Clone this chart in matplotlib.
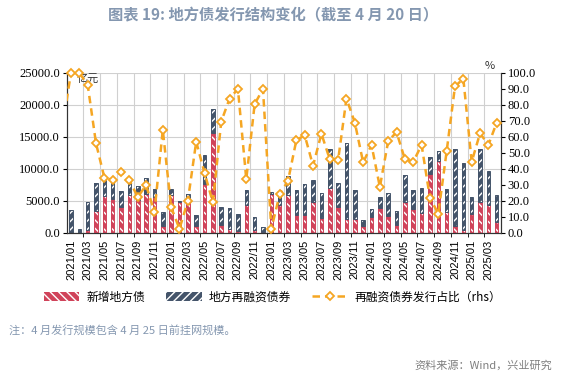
import matplotlib
matplotlib.use("Agg")
import matplotlib.pyplot as plt
from matplotlib.patches import Patch
from matplotlib.lines import Line2D
import numpy as np

plt.rcParams['font.family'] = ['Noto Sans CJK SC', 'DejaVu Sans']
plt.rcParams['hatch.linewidth'] = 1.0

months = [f"{y}/{m:02d}" for y in range(2021, 2026) for m in range(1, 13)][:52]

new_bonds = [0, 0, 370, 3380, 5700, 5260, 4030, 5880, 5100, 6020, 5600, 1120,
             5860, 4900, 4860, 1080, 7560, 15620, 1170, 600, 340, 4420, 470, 100,
             6100, 4400, 5930, 2800, 2850, 4770, 2320, 6980, 4110, 2220, 2100, 1020,
             2400, 3870, 2570, 1260, 4820, 3660, 3140, 9270, 11200, 3250, 1100, 370,
             2980, 4820, 4290, 1680]
total_bonds = [3640, 600, 4820, 7800, 8240, 7900, 6560, 8500, 7400, 8640, 6800, 3220,
               6930, 5000, 6100, 2850, 12170, 19360, 4050, 3900, 3000, 6670, 2480, 910,
               6400, 5700, 8870, 6750, 7590, 8320, 6250, 13060, 7720, 14000, 6670, 1960,
               3700, 5550, 6280, 3400, 9000, 6650, 7070, 11880, 12830, 6800, 13090, 10940,
               5550, 13040, 9740, 5860]
refi_bonds = [t - n for t, n in zip(total_bonds, new_bonds)]

refi_ratio = [100, 100, 92.7, 56, 34.6, 32.9, 38.2, 32.9, 22.4, 29.8, 13, 64.4,
              16, 2.5, 20, 57, 37.5, 19, 69.6, 84, 90, 33.5, 80.5, 90,
              2.5, 24, 32.5, 58, 61, 42, 62, 46, 45.5, 84, 69, 44,
              55, 28.7, 57.4, 63, 46, 44.4, 55, 21.8, 12, 51, 91.6, 96.4,
              44.4, 62.3, 55, 69]
ratio_prev_month = 67  # 2020/12, only partly visible at the left edge

red = '#d0435a'
blue = '#44546a'
orange = '#f5a623'
title_c = '#8497b0'

fig = plt.figure(figsize=(5.66, 3.78), dpi=100)
ax = fig.add_axes([0.118, 0.384, 0.767, 0.423])
ax2 = ax.twinx()

x = np.arange(len(months))
w = 0.42
ax.bar(x, new_bonds, w, color=red, edgecolor='white', hatch='\\\\\\\\', linewidth=0, zorder=2)
ax.bar(x, new_bonds, w, fill=False, edgecolor=red, linewidth=0.7, zorder=3)
ax.bar(x, refi_bonds, w, bottom=new_bonds, color=blue, edgecolor='white', hatch='////', linewidth=0, zorder=2)
ax.bar(x, refi_bonds, w, bottom=new_bonds, fill=False, edgecolor=blue, linewidth=0.7, zorder=3)

xr = np.concatenate([[-1], x])
yr = [ratio_prev_month] + refi_ratio
ax2.plot(xr, yr, color=orange, lw=1.8, ls=(0, (3, 2)), zorder=4)
ax2.plot(x, refi_ratio, ls='none', marker='D', ms=4.5, mfc='white', mec=orange, mew=1.3,
         zorder=5, clip_on=False)

ax.set_xlim(-0.5, len(months) - 0.5)
ax2.set_xlim(-0.5, len(months) - 0.5)
ax.set_ylim(0, 25000)
ax2.set_ylim(0, 100)
ax.set_yticks(np.arange(0, 25001, 5000))
ax2.set_yticks(np.arange(0, 101, 10))
ax.set_yticklabels([f"{v:.1f}" for v in np.arange(0, 25001, 5000)], family='Liberation Serif', fontsize=9)
ax2.set_yticklabels([f"{v:.1f}" for v in np.arange(0, 101, 10)], family='Liberation Serif', fontsize=9)

ax.set_xticks(x[::2])
ax.set_xticklabels(months[::2], rotation=90, family='Liberation Sans', fontsize=8)
ax.set_xticks(np.arange(1.5, len(months) - 0.5, 2), minor=True)
ax.tick_params(axis='x', which='major', length=0, pad=5)
ax.tick_params(axis='x', which='minor', length=3, direction='out')
ax.tick_params(axis='y', length=3, direction='out', pad=2)
ax2.tick_params(axis='y', length=3, direction='out', pad=2)

ax.set_axisbelow(True)
ax.grid(axis='y', color='#d0d0d0', lw=0.8)
ax.grid(axis='x', which='minor', color='#d0d0d0', lw=0.8)
for a in (ax, ax2):
    a.spines['top'].set_visible(False)
    a.spines['left'].set_color('#333333')
    a.spines['right'].set_color('#333333')
    a.spines['bottom'].set_color('#333333')

ax.text(0.022, 0.995, '亿元', transform=ax.transAxes, fontsize=8, va='top', ha='left', color='#333333')
ax.text(0.975, 1.01, '%', transform=ax.transAxes, fontsize=8, va='bottom', ha='center', color='#333333')

handles = [Patch(facecolor=red, edgecolor='white', hatch='\\\\\\\\', linewidth=0),
           Patch(facecolor=blue, edgecolor='white', hatch='////', linewidth=0),
           Line2D([0], [0], color=orange, lw=1.8, ls=(0, (3, 2)), marker='D', ms=4.5,
                  mfc='white', mec=orange, mew=1.3)]
labels = ['新增地方债', '地方再融资债券', '再融资债券发行占比（rhs）']
fig.legend(handles, labels, loc='center', bbox_to_anchor=(0.482, 0.214), ncol=3, frameon=False,
           fontsize=8.5, handlelength=3.0, handleheight=0.7, columnspacing=1.8, handletextpad=0.6)

fig.text(0.483, 0.958, '图表 19: 地方债发行结构变化（截至 4 月 20 日）', ha='center', va='center',
         fontsize=11, fontweight='bold', color=title_c)
fig.text(0.016, 0.127, '注：4 月发行规模包含 4 月 25 日前挂网规模。', ha='left', va='center',
         fontsize=8, color=title_c)
fig.text(0.976, 0.034, '资料来源：Wind，兴业研究', ha='right', va='center', fontsize=8, color='#7f7f7f')

fig.savefig('out.png', dpi=100)
